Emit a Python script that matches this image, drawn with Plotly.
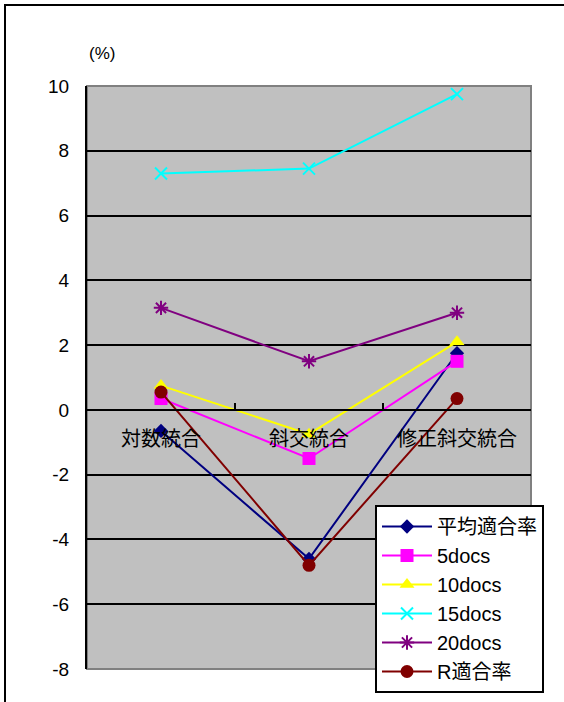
import plotly.graph_objects as go

# Combination methods along the x axis
categories = ["対数統合", "斜交統合", "修正斜交統合"]

# Improvement (%) for each measure
avg_precision = [-0.65, -4.6, 1.75]
docs5 = [0.35, -1.5, 1.5]
docs10 = [0.75, -0.75, 2.1]
docs15 = [7.3, 7.45, 9.75]
docs20 = [3.15, 1.5, 3.0]
r_precision = [0.55, -4.8, 0.35]

series_names = ["平均適合率", "5docs", "10docs", "15docs", "20docs", "R適合率"]
series_values = [avg_precision, docs5, docs10, docs15, docs20, r_precision]

y_ticks = [-8, -6, -4, -2, 0, 2, 4, 6, 8, 10]
y_ticktext = ["-8", "-6", "-4", "-2", "0", "2", "4", "6", "8", "10"]

styles = [
    dict(color="#000080", symbol="diamond", size=11, lw=0),
    dict(color="#FF00FF", symbol="square", size=13, lw=0),
    dict(color="#FFFF00", symbol="triangle-up", size=13, lw=0),
    dict(color="#00FFFF", symbol="x-thin", size=12, lw=2),
    dict(color="#800080", symbol="asterisk", size=12, lw=2),
    dict(color="#800000", symbol="circle", size=13, lw=0),
]

FONT = "Liberation Sans, Arial, Noto Sans CJK JP"

fig = go.Figure()
for i, (name, vals, st) in enumerate(zip(series_names, series_values, styles)):
    fig.add_trace(go.Scatter(
        x=categories, y=vals, name=name, mode="lines+markers",
        legendgroup=f"g{i}",
        line=dict(color=st["color"], width=2),
        marker=dict(symbol=st["symbol"], size=st["size"], color=st["color"],
                    line=dict(color=st["color"], width=st["lw"])),
    ))

# plot area in pixels
L, R, T, B = 87, 531, 86, 669
W, H = 564, 702
pw, ph = R - L, B - T


def px(xp):
    return (xp - L) / pw


def py(yp):
    return (B - yp) / ph


shapes = [
    # outer chart frame (left and top edges visible)
    dict(type="rect", xref="paper", yref="paper",
         x0=px(5), x1=px(620), y0=py(5), y1=py(760),
         line=dict(color="black", width=2), layer="below"),
    # plot area border
    dict(type="rect", xref="paper", yref="paper", x0=0, x1=1, y0=0, y1=1,
         line=dict(color="#808080", width=2), layer="below"),
]

fig.update_layout(
    width=W, height=H,
    margin=dict(l=L, r=W - R, t=T, b=H - B, autoexpand=False),
    paper_bgcolor="white",
    plot_bgcolor="#C0C0C0",
    font=dict(family=FONT, color="black", size=18),
    showlegend=True,
    legend=dict(
        x=px(375), y=py(505), xanchor="left", yanchor="top",
        bgcolor="white", bordercolor="black", borderwidth=2,
        font=dict(family=FONT, size=20, color="black"),
        itemwidth=50, tracegroupgap=0, traceorder="grouped",
        entrywidth=170,
    ),
    shapes=shapes,
    annotations=[dict(text="(%)", xref="paper", yref="paper",
                      x=px(87), y=py(53), xanchor="left", yanchor="middle",
                      showarrow=False, font=dict(family=FONT, size=17))],
)

fig.update_xaxes(
    type="category", range=[-0.5, 2.5],
    anchor="free", position=8 / 18,
    showline=True, linecolor="black", linewidth=2,
    ticks="inside", ticklen=6, tickcolor="black", tickwidth=2,
    tickson="boundaries", showgrid=False, automargin=False,
    tickfont=dict(family=FONT, size=20),
    ticklabelstandoff=11,
)

fig.update_yaxes(
    range=[-8, 10], tickvals=y_ticks, ticktext=y_ticktext,
    showgrid=True, gridcolor="black", gridwidth=1.5,
    zeroline=False, automargin=False,
    showline=True, linecolor="black", linewidth=2,
    ticks="", tickfont=dict(family=FONT, size=19),
    ticklabelstandoff=12,
)

fig.write_html("out.html")
